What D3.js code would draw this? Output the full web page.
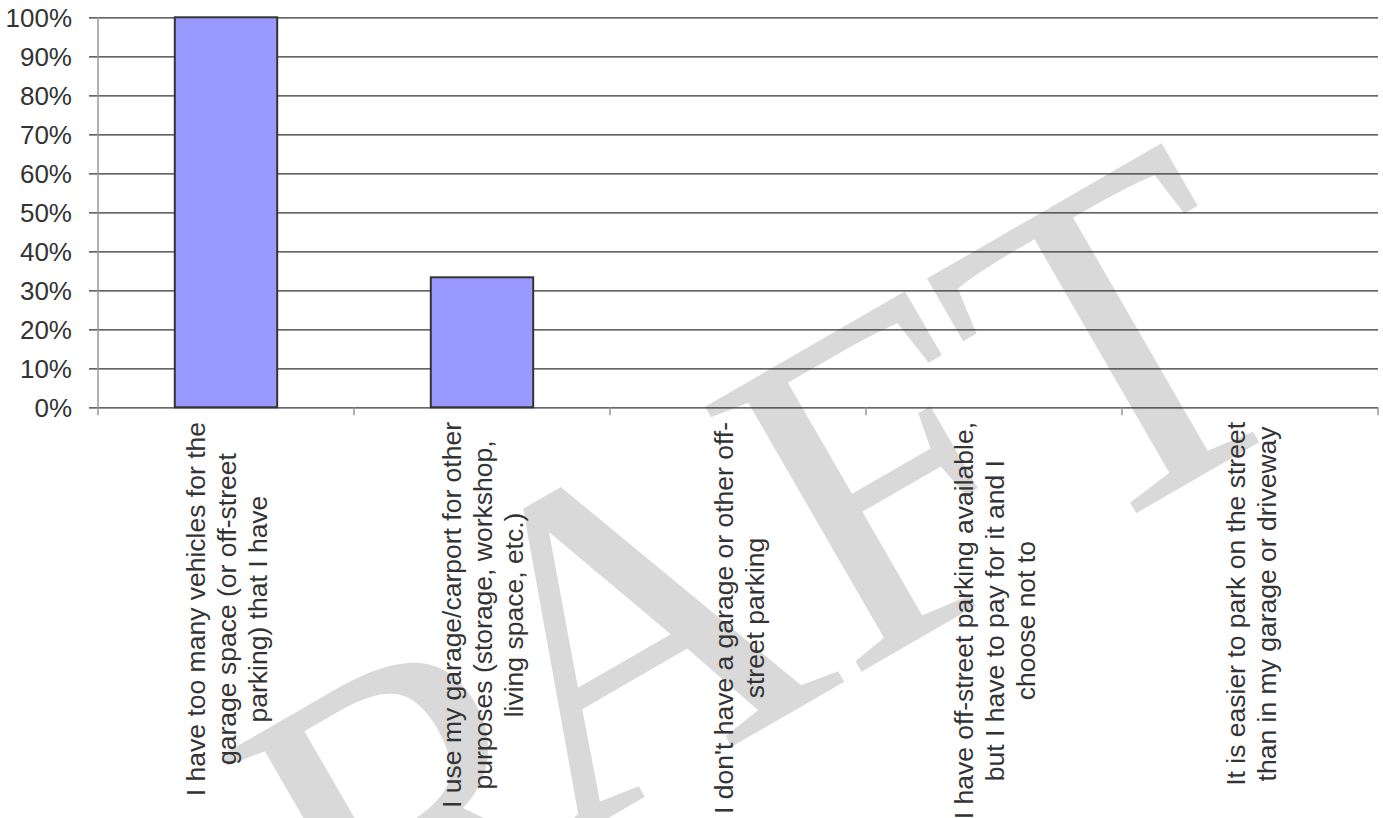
<!DOCTYPE html>
<html>
<head>
<meta charset="utf-8">
<script src="https://cdn.jsdelivr.net/npm/d3@7/dist/d3.min.js"></script>
<style>
html,body{margin:0;padding:0;background:#fff;overflow:hidden}
svg{display:block}
</style>
</head>
<body>
<svg id="chart" width="1383" height="818"></svg>
<script>
const categories = [
  "I have too many vehicles for the garage space (or off-street parking) that I have",
  "I use my garage/carport for other purposes (storage, workshop, living space, etc.)",
  "I don't have a garage or other off-street parking",
  "I have off-street parking available, but I have to pay for it and I choose not to",
  "It is easier to park on the street than in my garage or driveway"
];
const categoryLines = [
  ["I have too many vehicles for the", "garage space (or off-street", "parking) that I have"],
  ["I use my garage/carport for other", "purposes (storage, workshop,", "living space, etc.)"],
  ["I don't have a garage or other off-", "street parking"],
  ["I have off-street parking available,", "but I have to pay for it and I", "choose not to"],
  ["It is easier to park on the street", "than in my garage or driveway"]
];
const values = [100, 33.33, 0, 0, 0];
const yTicks = [0, 10, 20, 30, 40, 50, 60, 70, 80, 90, 100];
const watermarkParts = ["DR", "AFT"];

(function () {
const svg = d3.select("#chart");
const mLeft = 98, mRight = 1378, mTop = 17.3, mBottom = 407.3;

const x = d3.scaleBand().domain(categories).range([mLeft, mRight]).padding(0);
const y = d3.scaleLinear().domain([0, 100]).range([mBottom, mTop]);

// watermark (background)
const wm = svg.append("text")
  .attr("transform", "translate(629,806) rotate(-30)")
  .attr("text-anchor", "middle")
  .attr("font-family", "'Liberation Serif', 'Times New Roman', serif")
  .attr("font-size", 470)
  .attr("fill", "#d9d9d9");
wm.append("tspan").attr("dx", 60).attr("dy", 60).text(watermarkParts[0]);
wm.append("tspan").attr("dx", -60).attr("dy", -60).text(watermarkParts[1]);

// gridlines + y tick labels
const yAxis = d3.axisLeft(y).tickValues(yTicks).tickSize(-(mRight - mLeft)).tickSizeOuter(0)
  .tickFormat(d => d + "%").tickPadding(26);
const gy = svg.append("g").attr("transform", `translate(${mLeft},0)`).call(yAxis);
gy.select(".domain").remove();
gy.selectAll(".tick line").attr("stroke", "#333").attr("stroke-width", 1.2).attr("x1", -9);
gy.selectAll(".tick text")
  .attr("font-family", "'Liberation Sans', Arial, sans-serif")
  .attr("font-size", 26).attr("fill", "#333").attr("dy", "0.35em");

// vertical y-axis line
svg.append("line").attr("x1", mLeft).attr("x2", mLeft).attr("y1", mTop).attr("y2", mBottom + 8)
  .attr("stroke", "#999").attr("stroke-width", 1.5);

// category ticks
const bounds = categories.map(c => x(c) + x.bandwidth());
svg.append("g").selectAll("line").data(bounds).join("line")
  .attr("x1", d => d).attr("x2", d => d).attr("y1", mBottom).attr("y2", mBottom + 8)
  .attr("stroke", "#999").attr("stroke-width", 1.5);

// bars
const bw = x.bandwidth() * 0.4;
svg.append("g").selectAll("rect").data(values.map((v, i) => ({v, c: categories[i]})).filter(d => d.v > 0))
  .join("rect")
  .attr("x", d => x(d.c) + x.bandwidth() / 2 - bw / 2)
  .attr("width", bw)
  .attr("y", d => y(d.v))
  .attr("height", d => y(0) - y(d.v))
  .attr("fill", "#9999ff").attr("stroke", "#333").attr("stroke-width", 2);

// category labels (rotated, multi-line, centered)
const lineH = 31;
categories.forEach((c, i) => {
  const lines = categoryLines[i];
  const cx = x(c) + x.bandwidth() / 2;
  const g = svg.append("g");
  const texts = lines.map(l => g.append("text")
    .attr("font-family", "'Liberation Sans', Arial, sans-serif")
    .attr("font-size", 26.5).attr("fill", "#333")
    .attr("text-anchor", "middle").text(l));
  const maxW = d3.max(texts, t => t.node().getComputedTextLength());
  const cy = 422 + maxW / 2;
  const n = lines.length;
  texts.forEach((t, j) => {
    const bx = cx + (j - (n - 1) / 2) * lineH + 10;
    t.attr("transform", `translate(${bx},${cy}) rotate(-90)`);
  });
});
})();
</script>
</body>
</html>
